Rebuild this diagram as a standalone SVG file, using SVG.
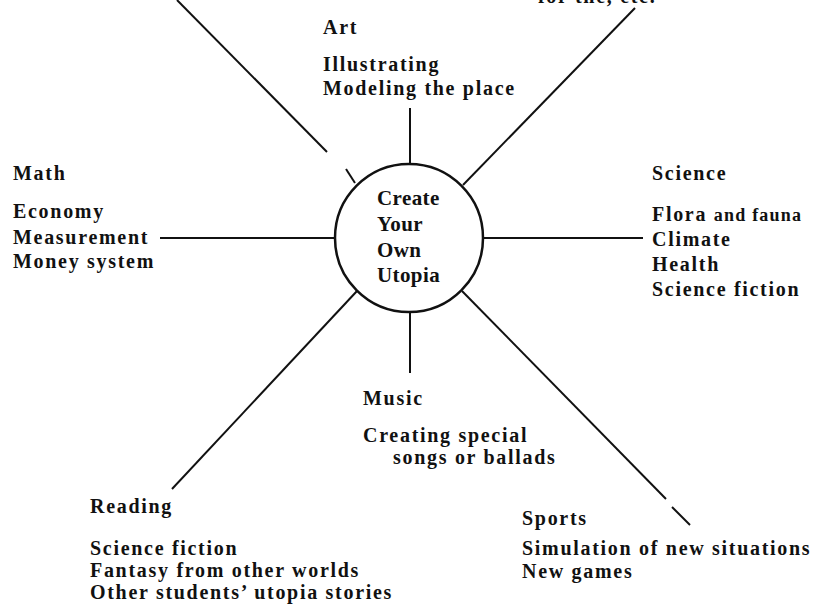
<svg xmlns="http://www.w3.org/2000/svg" width="817" height="609" viewBox="0 0 817 609">
<style>
text{font-family:"Liberation Serif","Times New Roman",serif;font-weight:bold;font-size:20px;letter-spacing:1.7px;fill:#111}
.c{font-size:21px;letter-spacing:0.4px}
.sm{font-size:18px;letter-spacing:1.2px}
line{stroke:#111;stroke-width:2;stroke-linecap:butt}
</style>
<rect width="817" height="609" fill="#fff"/>
<g id="connectors">
<line x1="177" y1="0" x2="327" y2="152"/>
<line x1="346" y1="169" x2="355" y2="183"/>
<line x1="410" y1="108" x2="410" y2="163"/>
<line x1="463" y1="185" x2="635" y2="8"/>
<line x1="160" y1="238" x2="335" y2="238"/>
<line x1="484" y1="238" x2="643" y2="238"/>
<line x1="410" y1="313" x2="410" y2="373"/>
<line x1="357" y1="291" x2="172" y2="489"/>
<line x1="462" y1="291" x2="666" y2="499"/>
<line x1="672" y1="507" x2="690" y2="525"/>
</g>
<g id="center">
<circle cx="409" cy="238" r="74" fill="none" stroke="#111" stroke-width="2.5"/>
<text class="c" x="377" y="205">Create</text>
<text class="c" x="377" y="231">Your</text>
<text class="c" x="377" y="257">Own</text>
<text class="c" x="377" y="282">Utopia</text>
</g>
<g id="top-right">
<text x="538" y="3">for the, etc.</text>
</g>
<g id="art">
<text x="323" y="34">Art</text>
<text x="323" y="71">Illustrating</text>
<text x="323" y="95">Modeling the place</text>
</g>
<g id="math">
<text x="13" y="180">Math</text>
<text x="13" y="218">Economy</text>
<text x="13" y="244">Measurement</text>
<text x="13" y="268">Money system</text>
</g>
<g id="science">
<text x="652" y="180">Science</text>
<text x="652" y="221">Flora <tspan class="sm">and fauna</tspan></text>
<text x="652" y="246">Climate</text>
<text x="652" y="271">Health</text>
<text x="652" y="296">Science fiction</text>
</g>
<g id="music">
<text x="363" y="405">Music</text>
<text x="363" y="442">Creating special</text>
<text x="393" y="464">songs or ballads</text>
</g>
<g id="reading">
<text x="90" y="513">Reading</text>
<text x="90" y="555">Science fiction</text>
<text x="90" y="577">Fantasy from other worlds</text>
<text x="90" y="599">Other students’ utopia stories</text>
</g>
<g id="sports">
<text x="522" y="525">Sports</text>
<text x="522" y="555">Simulation of new situations</text>
<text x="522" y="578">New games</text>
</g>
</svg>
